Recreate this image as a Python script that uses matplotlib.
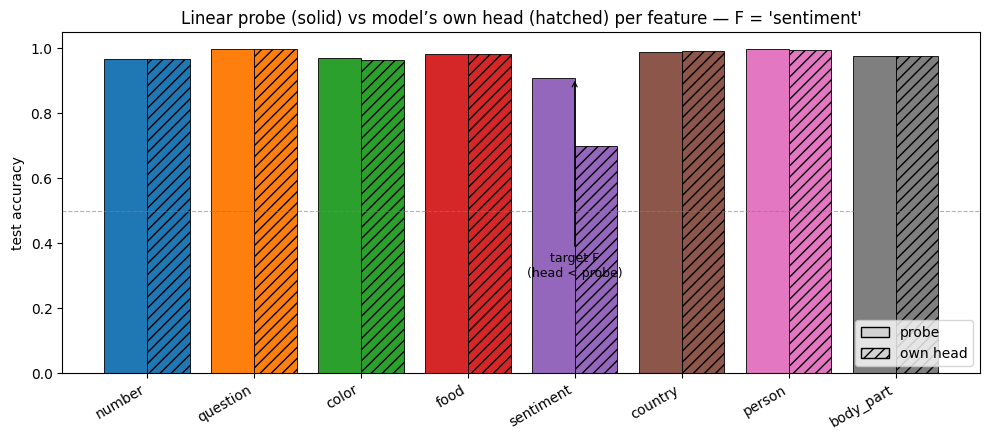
import numpy as np
import matplotlib.pyplot as plt
from matplotlib.patches import Patch

features = ['number', 'question', 'color', 'food', 'sentiment', 'country', 'person', 'body_part']
probe_acc = [0.968, 0.999, 0.971, 0.984, 0.909, 0.990, 0.998, 0.977]
head_acc = [0.968, 0.999, 0.964, 0.984, 0.698, 0.992, 0.995, 0.977]
target = 'sentiment'

colors = plt.rcParams['axes.prop_cycle'].by_key()['color']
x = np.arange(len(features))
w = 0.4

fig, ax = plt.subplots(figsize=(9.89, 4.4), dpi=100)
for i, f in enumerate(features):
    c = colors[i % len(colors)]
    ax.bar(x[i] - w / 2, probe_acc[i], w, color=c, edgecolor='black', linewidth=0.6)
    ax.bar(x[i] + w / 2, head_acc[i], w, color=c, edgecolor='black', linewidth=0.6, hatch='///')

ax.axhline(0.5, color='gray', linestyle='--', linewidth=0.8, alpha=0.6)

t = features.index(target)
ax.annotate('target F\n(head < probe)', xy=(x[t], probe_acc[t]), xytext=(x[t], 0.33),
            ha='center', va='center', fontsize=9,
            arrowprops=dict(arrowstyle='->', linewidth=0.8))

ax.set_xticks(x)
ax.set_xticklabels(features, rotation=30, ha='right')
ax.set_ylabel('test accuracy')
ax.set_ylim(0, 1.05)
ax.set_title("Linear probe (solid) vs model’s own head (hatched) per feature — F = 'sentiment'")

handles = [Patch(facecolor='lightgray', edgecolor='black', label='probe'),
           Patch(facecolor='lightgray', edgecolor='black', hatch='///', label='own head')]
ax.legend(handles=handles, loc='lower right')

fig.subplots_adjust(left=0.063, right=0.991, top=0.927, bottom=0.152)
plt.savefig('out.png')
